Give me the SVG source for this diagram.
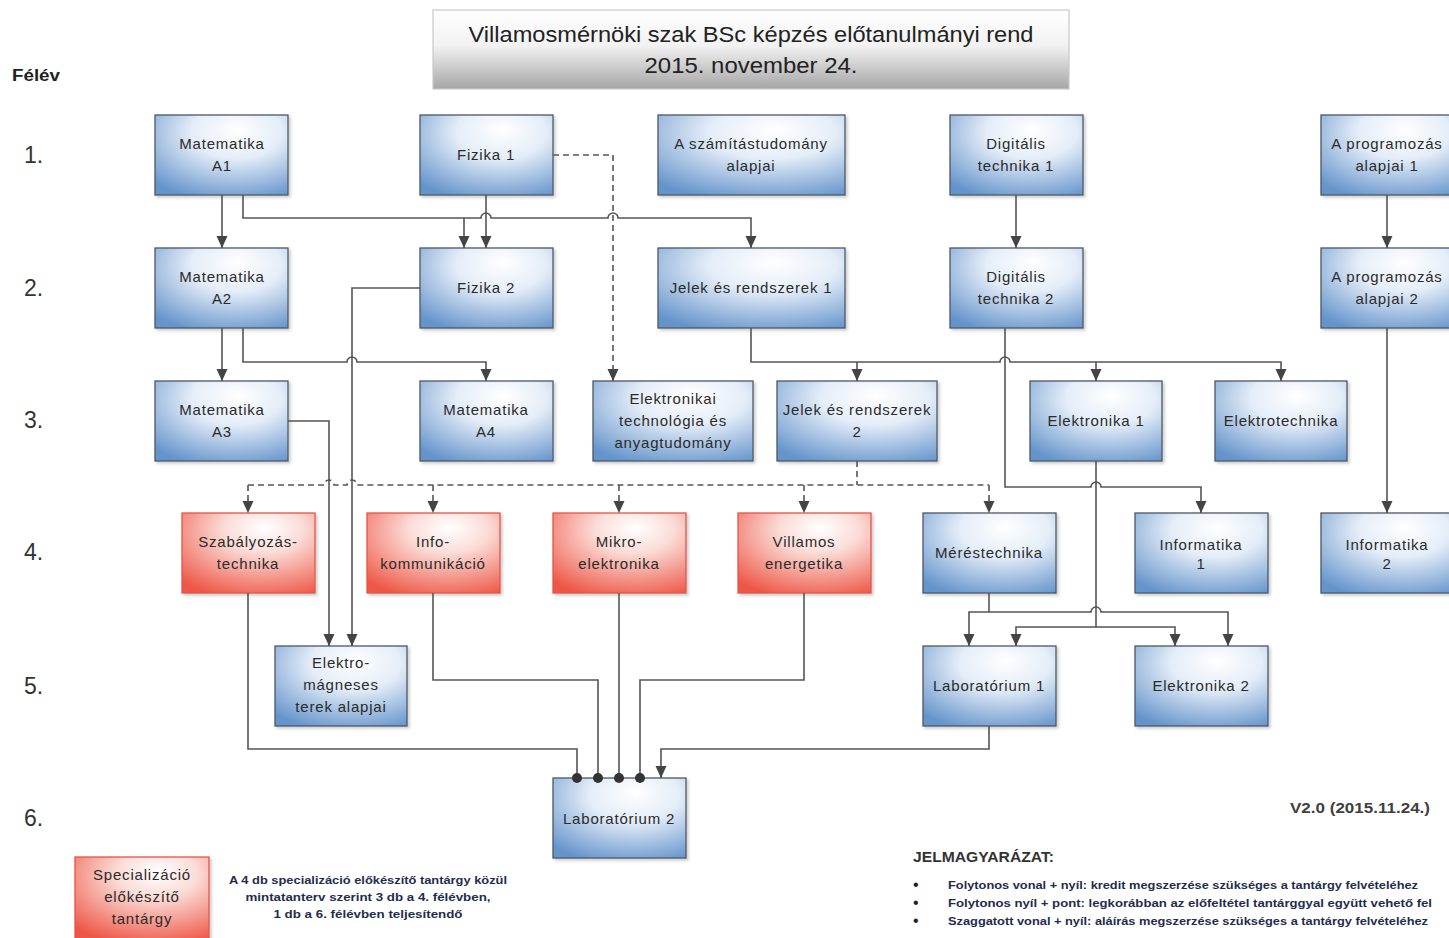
<svg xmlns="http://www.w3.org/2000/svg" width="1449" height="938" viewBox="0 0 1449 938">
<defs>
<radialGradient id="gBlue" cx="0.6" cy="0.25" r="0.85" fx="0.62" fy="0.18">
<stop offset="0" stop-color="#ffffff"/>
<stop offset="0.4" stop-color="#e4edf8"/>
<stop offset="1" stop-color="#6594cb"/>
</radialGradient>
<radialGradient id="gRed" cx="0.6" cy="0.25" r="0.85" fx="0.62" fy="0.18">
<stop offset="0" stop-color="#ffffff"/>
<stop offset="0.35" stop-color="#fbdcd7"/>
<stop offset="1" stop-color="#ee5747"/>
</radialGradient>
<linearGradient id="gTitle" x1="0" y1="0" x2="0" y2="1">
<stop offset="0" stop-color="#ffffff"/>
<stop offset="0.45" stop-color="#f2f2f2"/>
<stop offset="1" stop-color="#a6a6a6"/>
</linearGradient>
<filter id="sh" x="-10%" y="-10%" width="125%" height="130%">
<feDropShadow dx="2" dy="2" stdDeviation="1.5" flood-color="#000" flood-opacity="0.2"/>
</filter>
<marker id="arr" markerUnits="userSpaceOnUse" markerWidth="12" markerHeight="12" viewBox="0 0 12 12" refX="12" refY="6" orient="auto">
<path d="M0,0.5 L12,6 L0,11.5 z" fill="#444"/>
</marker>
<marker id="dot" markerUnits="userSpaceOnUse" markerWidth="11" markerHeight="11" viewBox="0 0 11 11" refX="5.5" refY="5.5" orient="auto">
<circle cx="5.5" cy="5.5" r="5" fill="#333"/>
</marker>
</defs>
<style>
.nb{fill:url(#gBlue);stroke:#4d5866;stroke-width:1.3;filter:url(#sh)}
.nr{fill:url(#gRed);stroke:#e0574a;stroke-width:1.3;filter:url(#sh)}
.t{font-family:"Liberation Sans",Arial,sans-serif;font-size:15px;letter-spacing:0.8px;fill:#2b2b2b;text-anchor:middle}
.c{fill:none;stroke:#555;stroke-width:1.6}
.d{stroke-dasharray:6,4}
.a{marker-end:url(#arr)}
.p{marker-end:url(#dot)}
.sem{font-family:"Liberation Sans",Arial,sans-serif;font-size:23px;fill:#333}
.lg{font-family:"Liberation Sans",Arial,sans-serif;font-size:11.5px;font-weight:bold;fill:#1f2d4d}
.bul{font-family:"Liberation Sans",Arial,sans-serif;font-size:16px;fill:#222}
</style>
<rect width="1449" height="938" fill="#ffffff"/>

<g id="title">
<rect x="433" y="10" width="636" height="79" fill="url(#gTitle)" stroke="#c8c8c8" stroke-width="1.2"/>
<text x="751" y="42" text-anchor="middle" font-family="Liberation Sans,Arial,sans-serif" font-size="22" fill="#222" textLength="565" lengthAdjust="spacingAndGlyphs">Villamosmérnöki szak BSc képzés előtanulmányi rend</text>
<text x="751" y="73" text-anchor="middle" font-family="Liberation Sans,Arial,sans-serif" font-size="22" fill="#222" textLength="213" lengthAdjust="spacingAndGlyphs">2015. november 24.</text>
</g>

<g id="semesters">
<text x="12" y="81" font-family="Liberation Sans,Arial,sans-serif" font-size="16" font-weight="bold" fill="#222" textLength="48" lengthAdjust="spacingAndGlyphs">Félév</text>
<text class="sem" x="24" y="163">1.</text>
<text class="sem" x="24" y="296">2.</text>
<text class="sem" x="24" y="428">3.</text>
<text class="sem" x="24" y="560">4.</text>
<text class="sem" x="24" y="694">5.</text>
<text class="sem" x="24" y="826">6.</text>
</g>

<g id="n-mat-a1"><rect class="nb" x="155" y="115" width="133" height="80"/><text class="t" x="222" y="149">Matematika</text><text class="t" x="222" y="171">A1</text></g>
<g id="n-fizika1"><rect class="nb" x="420" y="115" width="133" height="80"/><text class="t" x="486" y="160">Fizika 1</text></g>
<g id="n-szamtud"><rect class="nb" x="658" y="115" width="187" height="80"/><text class="t" x="751" y="149">A számítástudomány</text><text class="t" x="751" y="171">alapjai</text></g>
<g id="n-digit1"><rect class="nb" x="950" y="115" width="133" height="80"/><text class="t" x="1016" y="149">Digitális</text><text class="t" x="1016" y="171">technika 1</text></g>
<g id="n-prog1"><rect class="nb" x="1321" y="115" width="135" height="80"/><text class="t" x="1387" y="149">A programozás</text><text class="t" x="1387" y="171">alapjai 1</text></g>

<g id="n-mat-a2"><rect class="nb" x="155" y="248" width="133" height="80"/><text class="t" x="222" y="282">Matematika</text><text class="t" x="222" y="304">A2</text></g>
<g id="n-fizika2"><rect class="nb" x="420" y="248" width="133" height="80"/><text class="t" x="486" y="293">Fizika 2</text></g>
<g id="n-jelek1"><rect class="nb" x="658" y="248" width="187" height="80"/><text class="t" x="751" y="293">Jelek és rendszerek 1</text></g>
<g id="n-digit2"><rect class="nb" x="950" y="248" width="133" height="80"/><text class="t" x="1016" y="282">Digitális</text><text class="t" x="1016" y="304">technika 2</text></g>
<g id="n-prog2"><rect class="nb" x="1321" y="248" width="135" height="80"/><text class="t" x="1387" y="282">A programozás</text><text class="t" x="1387" y="304">alapjai 2</text></g>

<g id="n-mat-a3"><rect class="nb" x="155" y="381" width="133" height="80"/><text class="t" x="222" y="415">Matematika</text><text class="t" x="222" y="437">A3</text></g>
<g id="n-mat-a4"><rect class="nb" x="420" y="381" width="133" height="80"/><text class="t" x="486" y="415">Matematika</text><text class="t" x="486" y="437">A4</text></g>
<g id="n-elteh"><rect class="nb" x="593" y="381" width="160" height="80"/><text class="t" x="673" y="404">Elektronikai</text><text class="t" x="673" y="426">technológia és</text><text class="t" x="673" y="448">anyagtudomány</text></g>
<g id="n-jelek2"><rect class="nb" x="777" y="381" width="160" height="80"/><text class="t" x="857" y="415">Jelek és rendszerek</text><text class="t" x="857" y="437">2</text></g>
<g id="n-elektronika1"><rect class="nb" x="1030" y="381" width="132" height="80"/><text class="t" x="1096" y="426">Elektronika 1</text></g>
<g id="n-elektrotechnika"><rect class="nb" x="1215" y="381" width="132" height="80"/><text class="t" x="1281" y="426">Elektrotechnika</text></g>

<g id="n-szabtech"><rect class="nr" x="182" y="513" width="133" height="80"/><text class="t" x="248" y="547">Szabályozás-</text><text class="t" x="248" y="569">technika</text></g>
<g id="n-infokom"><rect class="nr" x="367" y="513" width="133" height="80"/><text class="t" x="433" y="547">Info-</text><text class="t" x="433" y="569">kommunikáció</text></g>
<g id="n-mikro"><rect class="nr" x="553" y="513" width="133" height="80"/><text class="t" x="619" y="547">Mikro-</text><text class="t" x="619" y="569">elektronika</text></g>
<g id="n-villen"><rect class="nr" x="738" y="513" width="133" height="80"/><text class="t" x="804" y="547">Villamos</text><text class="t" x="804" y="569">energetika</text></g>
<g id="n-merestech"><rect class="nb" x="923" y="513" width="133" height="80"/><text class="t" x="989" y="558">Méréstechnika</text></g>
<g id="n-info1"><rect class="nb" x="1135" y="513" width="133" height="80"/><text class="t" x="1201" y="550">Informatika</text><text class="t" x="1201" y="569" font-size="13">1</text></g>
<g id="n-info2"><rect class="nb" x="1321" y="513" width="135" height="80"/><text class="t" x="1387" y="550">Informatika</text><text class="t" x="1387" y="569" font-size="13">2</text></g>

<g id="n-emterek"><rect class="nb" x="275" y="646" width="132" height="80"/><text class="t" x="341" y="668">Elektro-</text><text class="t" x="341" y="690">mágneses</text><text class="t" x="341" y="712">terek alapjai</text></g>
<g id="n-lab1"><rect class="nb" x="923" y="646" width="133" height="80"/><text class="t" x="989" y="691">Laboratórium 1</text></g>
<g id="n-elektronika2"><rect class="nb" x="1135" y="646" width="133" height="80"/><text class="t" x="1201" y="691">Elektronika 2</text></g>

<g id="n-lab2"><rect class="nb" x="553" y="778" width="133" height="80"/><text class="t" x="619" y="824">Laboratórium 2</text></g>

<g id="connectors">
<path class="c a" d="M222,195 V248"/>
<path class="c a" d="M243,195 V218 H481 A5,5 0 0 1 491,218 H608 A5,5 0 0 1 618,218 H751 V248"/>
<path class="c a" d="M464,218 V248"/>
<path class="c a" d="M486,195 V248"/>
<path class="c d a" d="M553,155 H613 V381"/>
<path class="c a" d="M1016,195 V248"/>
<path class="c a" d="M1387,195 V248"/>
<path class="c a" d="M222,328 V381"/>
<path class="c a" d="M243,328 V362 H347 A5,5 0 0 1 357,362 H486 V381"/>
<path class="c a" d="M420,288 H352 V646"/>
<path class="c a" d="M288,421 H329 V646"/>
<path class="c a" d="M751,328 V362 H1000 A5,5 0 0 1 1010,362 H1281 V381"/>
<path class="c a" d="M857,362 V381"/>
<path class="c a" d="M1096,362 V381"/>
<path class="c a" d="M1005,328 V487 H1091 A5,5 0 0 1 1101,487 H1201 V513"/>
<path class="c a" d="M1387,328 V513"/>
<path class="c d" d="M857,461 V485"/>
<path class="c d" d="M248,485 H324 A5,5 0 0 1 334,485 H347 A5,5 0 0 1 357,485 H989"/>
<path class="c d a" d="M248,485 V513"/>
<path class="c d a" d="M433,485 V513"/>
<path class="c d a" d="M619,485 V513"/>
<path class="c d a" d="M804,485 V513"/>
<path class="c d a" d="M989,485 V513"/>
<path class="c" d="M1096,461 V627"/>
<path class="c a" d="M1096,627 H1016 V646"/>
<path class="c a" d="M1096,627 H1175 V646"/>
<path class="c" d="M989,593 V612"/>
<path class="c a" d="M989,612 H969 V646"/>
<path class="c a" d="M989,612 H1091 A5,5 0 0 1 1101,612 H1228 V646"/>
<path class="c p" d="M248,593 V749 H577 V778"/>
<path class="c p" d="M433,593 V680 H598 V778"/>
<path class="c p" d="M619,593 V778"/>
<path class="c p" d="M804,593 V680 H640 V778"/>
<path class="c a" d="M989,726 V749 H661 V778"/>
</g>

<g id="legend-box"><rect class="nr" x="75" y="857" width="134" height="82"/><text class="t" x="142" y="880">Specializáció</text><text class="t" x="142" y="902">előkészítő</text><text class="t" x="142" y="924">tantárgy</text></g>

<g id="notes">
<text class="lg" x="368" y="884" text-anchor="middle" textLength="278" lengthAdjust="spacingAndGlyphs">A 4 db specializáció előkészítő tantárgy közül</text>
<text class="lg" x="368" y="901" text-anchor="middle" textLength="245" lengthAdjust="spacingAndGlyphs">mintatanterv szerint 3 db a 4. félévben,</text>
<text class="lg" x="368" y="918" text-anchor="middle" textLength="189" lengthAdjust="spacingAndGlyphs">1 db a 6. félévben teljesítendő</text>
<text x="1430" y="813" text-anchor="end" font-family="Liberation Sans,Arial,sans-serif" font-size="14" font-weight="bold" fill="#404040" textLength="140" lengthAdjust="spacingAndGlyphs">V2.0 (2015.11.24.)</text>
<text x="913" y="862" font-family="Liberation Sans,Arial,sans-serif" font-size="14" font-weight="bold" fill="#333" textLength="141" lengthAdjust="spacingAndGlyphs">JELMAGYARÁZAT:</text>
<text class="bul" x="913" y="890">•</text>
<text class="bul" x="913" y="908">•</text>
<text class="bul" x="913" y="926">•</text>
<text class="lg" x="948" y="889" textLength="470" lengthAdjust="spacingAndGlyphs">Folytonos vonal + nyíl: kredit megszerzése szükséges a tantárgy felvételéhez</text>
<text class="lg" x="948" y="907" textLength="484" lengthAdjust="spacingAndGlyphs">Folytonos nyíl + pont: legkorábban az előfeltétel tantárggyal együtt vehető fel</text>
<text class="lg" x="948" y="925" textLength="480" lengthAdjust="spacingAndGlyphs">Szaggatott vonal + nyíl: aláírás megszerzése szükséges a tantárgy felvételéhez</text>
</g>
</svg>
